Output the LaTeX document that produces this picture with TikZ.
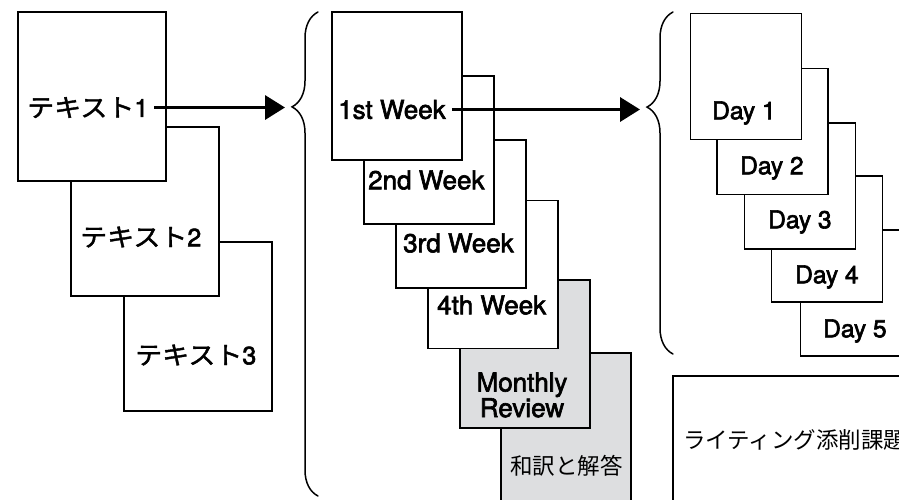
\documentclass[tikz,border=0pt]{standalone}
\usepackage{fontspec}
\setmainfont{TeX Gyre Heros}
\newfontfamily\medfont{TeX Gyre Heros}[FakeBold = 2.4]
\newfontfamily\jpfont{Noto Sans CJK JP}
\newfontfamily\jpmedfont{Noto Sans CJK JP}[FakeBold = 1.6, FakeStretch = 1.08]
\usetikzlibrary{arrows.meta,decorations.pathreplacing}
\definecolor{reviewgray}{RGB}{221,222,224}
\tikzset{
	sheet/.style = {draw, line width = 1.6pt, fill = white, inner sep = 0pt},
	graysheet/.style = {sheet, fill = reviewgray},
	lbl/.style = {font = \fontsize{26}{24}\selectfont\medfont, inner sep = 0pt, anchor = west},
	daylbl/.style = {font = \fontsize{24.5}{24}\selectfont\medfont, inner sep = 0pt, anchor = west},
	jplbl/.style = {font = \fontsize{22.5}{24}\selectfont\jpfont, inner sep = 0pt, anchor = west},
	kanalbl/.style = {font = \fontsize{25}{24}\selectfont\medfont, inner sep = 0pt, anchor = west},
	bigarrow/.style = {line width = 3.5pt, -{Triangle[length = 20pt, width = 24pt]}},
	curly/.style = {line width = 1.5pt, line cap = round, decorate,
		decoration = {brace, amplitude = 26pt, aspect = #1}}
}
\newcommand{\kana}[1]{{\fontsize{25}{25}\selectfont\jpmedfont #1}}
\begin{document}
\begin{tikzpicture}[x = 1pt, y = -1pt]
	%	frame
	\clip (0, 0) rectangle (899, 499);
	
	%	texts
	\node[sheet, minimum width = 148pt, minimum height = 169pt] (t3) at (198, 326.5) {};
	\node[kanalbl] (t3lbl) at (135, 355) {\kana{テキスト}3};
	\node[sheet, minimum width = 148pt, minimum height = 169pt] (t2) at (145, 211.5) {};
	\node[kanalbl] (t2lbl) at (80, 237) {\kana{テキスト}2};
	\node[sheet, minimum width = 148pt, minimum height = 169pt] (t1) at (92, 96.5) {};
	\node[kanalbl] (t1lbl) at (27, 107.5) {\kana{テキスト}1};
	
	%	weeks
	\node[graysheet, minimum width = 130pt, minimum height = 148pt] (ans) at (566, 427) {};
	\node[jplbl] (anslbl) at (510, 466) {和訳と解答};
	\node[graysheet, minimum width = 130pt, minimum height = 148pt] (rev) at (525, 354) {};
	\node[lbl, anchor = center, align = center] (revlbl) at (522, 395) {Monthly\\Review};
	\node[sheet, minimum width = 130pt, minimum height = 148pt] (wk4) at (493, 274.5) {};
	\node[lbl] (wk4lbl) at (437, 305) {4th Week};
	\node[sheet, minimum width = 130pt, minimum height = 148pt] (wk3) at (461, 214) {};
	\node[lbl] (wk3lbl) at (403, 243) {3rd Week};
	\node[sheet, minimum width = 130pt, minimum height = 148pt] (wk2) at (429, 150) {};
	\node[lbl] (wk2lbl) at (368, 180) {2nd Week};
	\node[sheet, minimum width = 130pt, minimum height = 148pt] (wk1) at (397, 86) {};
	\node[lbl] (wk1lbl) at (338, 109.5) {1st Week};
	
	%	days
	\node[sheet, minimum width = 111pt, minimum height = 126pt] (d5) at (856, 293) {};
	\node[daylbl] (d5lbl) at (823, 331) {Day 5};
	\node[sheet, minimum width = 111pt, minimum height = 126pt] (d4) at (827, 239) {};
	\node[daylbl] (d4lbl) at (795, 277) {Day 4};
	\node[sheet, minimum width = 111pt, minimum height = 126pt] (d3) at (800, 186) {};
	\node[daylbl] (d3lbl) at (768, 222) {Day 3};
	\node[sheet, minimum width = 111pt, minimum height = 126pt] (d2) at (772.5, 131.5) {};
	\node[daylbl] (d2lbl) at (740, 168) {Day 2};
	\node[sheet, minimum width = 111pt, minimum height = 126pt] (d1) at (746, 76.5) {};
	\node[daylbl] (d1lbl) at (712, 113) {Day 1};
	
	%	writing task
	\node[sheet, minimum width = 300pt, minimum height = 200pt] (wbox) at (823, 476) {};
	\node[jplbl] (wlbl) at (683, 440) {ライティング添削課題};
	
	%	braces
	\draw[curly = 0.804] (318, 496) -- (318, 12);
	\coordinate (wkin) at (292, 107.5);
	\draw[curly = 0.722] (673, 354) -- (673, 12);
	\coordinate (dayin) at (647, 109.5);
	
	%	arrows
	\draw[bigarrow, shorten < = 6pt, shorten > = 7pt] (t1lbl.east) -- (wkin);
	\draw[bigarrow, shorten < = 6pt, shorten > = 7pt] (wk1lbl.east) -- (dayin);
\end{tikzpicture}
\end{document}
